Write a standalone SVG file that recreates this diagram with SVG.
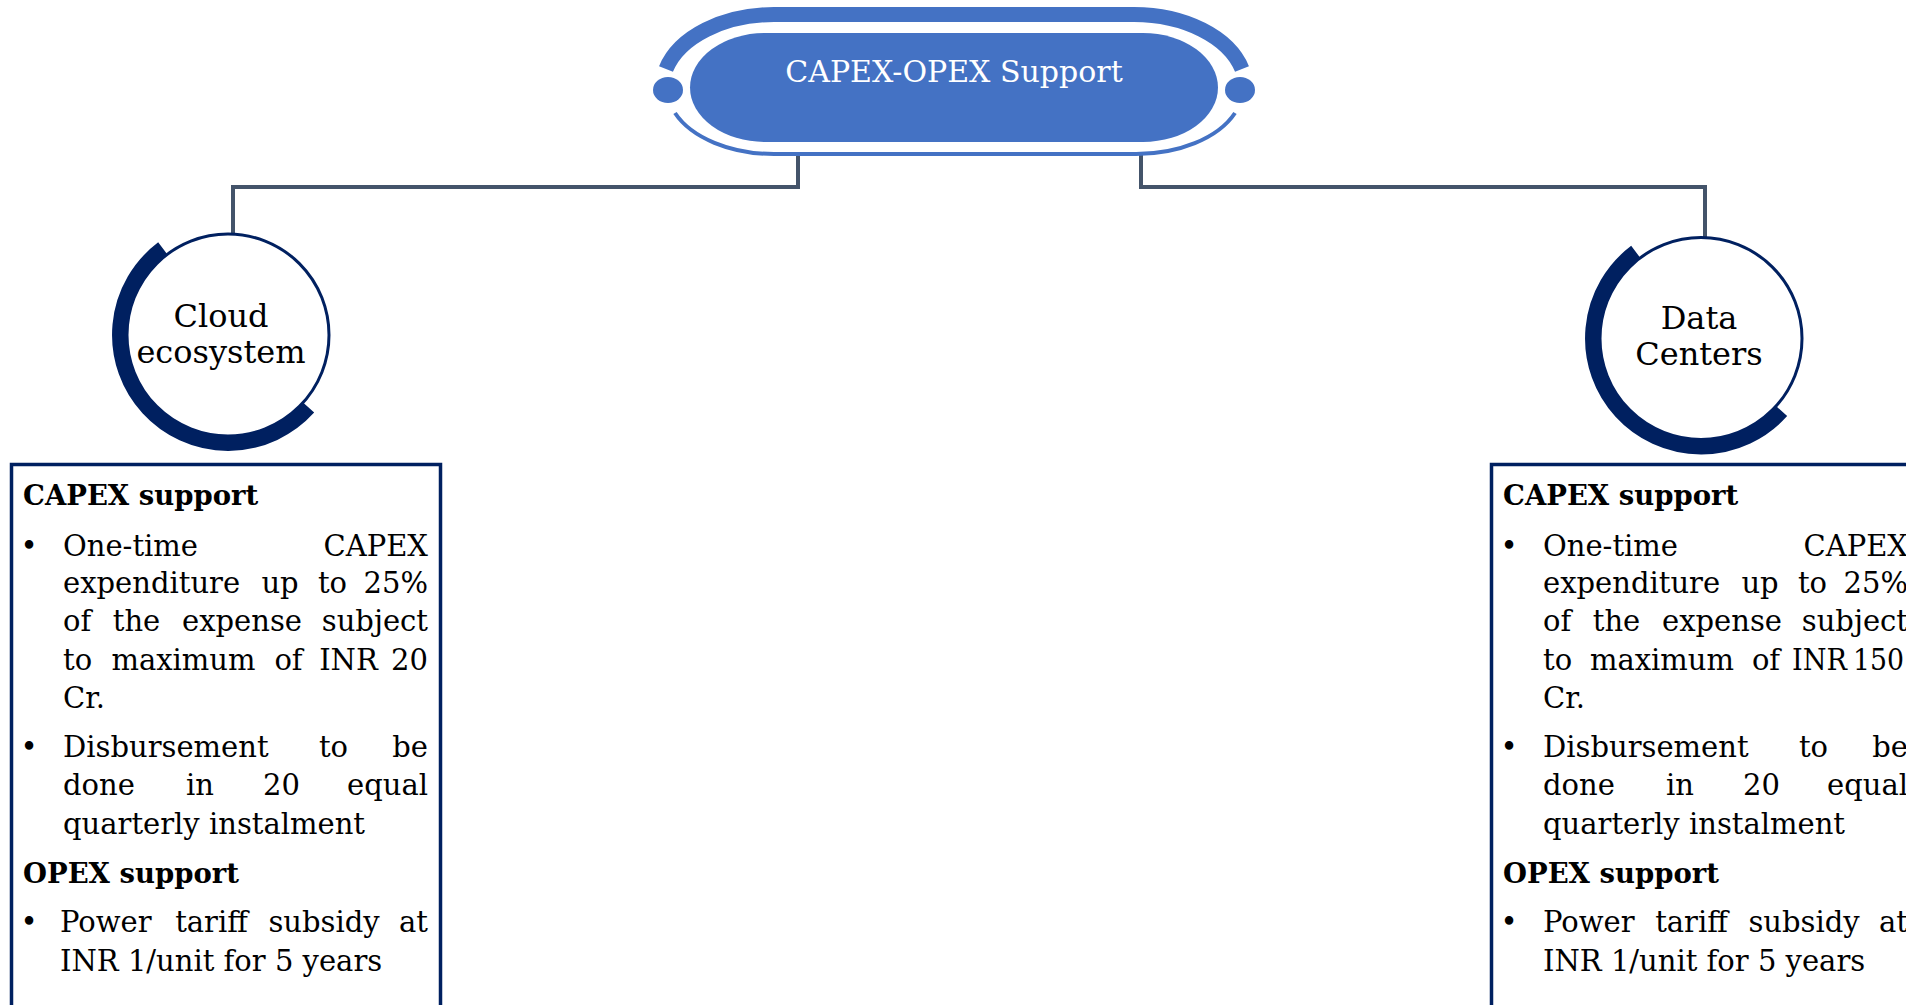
<svg xmlns="http://www.w3.org/2000/svg" width="1906" height="1005" viewBox="0 0 1906 1005">
<style>
.bg{fill:#ffffff}
.pill{fill:#4472C4}
.arcTop{fill:none;stroke:#4472C4;stroke-width:15}
.arcBot{fill:none;stroke:#4472C4;stroke-width:4}
.conn{fill:none;stroke:#44546A;stroke-width:4}
.ring{fill:#ffffff;stroke:#002060;stroke-width:3}
.ringArc{fill:none;stroke:#002060;stroke-width:15}
.box{fill:#ffffff;stroke:#002060;stroke-width:3.5}
text{font-family:"DejaVu Serif","Liberation Serif",serif;fill:#000000}
.title{font-size:30px;fill:#ffffff}
.circ{font-size:32px}
.head{font-size:27.5px;font-weight:bold}
.body{font-size:29px}
.e{text-anchor:end}
.m{text-anchor:middle}
</style>
<rect class="bg" x="0" y="0" width="1906" height="1005"/>

<g id="connectors">
<path class="conn" d="M798,155 V187 H233 V235"/>
<path class="conn" d="M1141,155 V187 H1705 V237"/>
</g>

<g id="node-capex-opex">
<path class="arcTop" d="M666,69 A112 73.5 0 0 1 774,14.5 L1134,14.5 A112 73.5 0 0 1 1242,69"/>
<path class="arcBot" d="M675,113 A107 66 0 0 0 774,154 L1134,154 A107 66 0 0 0 1235,113"/>
<rect class="pill" x="690" y="33" width="528" height="109" rx="75" ry="54.5"/>
<ellipse class="pill" cx="668" cy="90" rx="15" ry="13"/>
<ellipse class="pill" cx="1240" cy="90" rx="15" ry="13"/>
<text class="title m" x="954" y="82">CAPEX-OPEX Support</text>
</g>

<g id="node-cloud">
<circle class="ring" cx="228" cy="335" r="101"/>
<path class="ringArc" d="M308.6,407.6 A108.5 108.5 0 1 1 162.7,248.3"/>
<text class="circ m" x="221" y="327">Cloud</text>
<text class="circ m" x="221" y="363">ecosystem</text>
</g>

<g id="node-datacenters">
<circle class="ring" cx="1701" cy="338.5" r="101"/>
<path class="ringArc" d="M1781.6,411.1 A108.5 108.5 0 1 1 1635.7,251.8"/>
<text class="circ m" x="1699" y="329">Data</text>
<text class="circ m" x="1699" y="365">Centers</text>
</g>

<g id="box-cloud">
<rect class="box" x="11.5" y="464.5" width="429" height="560"/>
<text class="head" x="23" y="505">CAPEX support</text>
<text class="body m" x="29" y="555.5">•</text>
<text class="body" x="63" y="555.5">One-time</text>
<text class="body e" x="428" y="555.5">CAPEX</text>
<text class="body" x="63" y="593">expenditure</text>
<text class="body m" x="280" y="593">up</text>
<text class="body m" x="332.5" y="593">to</text>
<text class="body e" x="428" y="593">25%</text>
<text class="body" x="63" y="631">of</text>
<text class="body m" x="136.5" y="631">the</text>
<text class="body m" x="242" y="631">expense</text>
<text class="body e" x="428" y="631">subject</text>
<text class="body" x="63" y="669.5">to</text>
<text class="body m" x="183.5" y="669.5">maximum</text>
<text class="body m" x="288.5" y="669.5">of</text>
<text class="body m" x="348.5" y="669.5">INR</text>
<text class="body e" x="428" y="669.5">20</text>
<text class="body" x="63" y="707.5">Cr.</text>
<text class="body m" x="29" y="756.5">•</text>
<text class="body" x="63" y="756.5">Disbursement</text>
<text class="body m" x="333.5" y="756.5">to</text>
<text class="body e" x="428" y="756.5">be</text>
<text class="body" x="63" y="795">done</text>
<text class="body m" x="200" y="795">in</text>
<text class="body m" x="281.5" y="795">20</text>
<text class="body e" x="428" y="795">equal</text>
<text class="body" x="63" y="833.5">quarterly instalment</text>
<text class="head" x="23" y="883">OPEX support</text>
<text class="body m" x="29" y="931.5">•</text>
<text class="body" x="60" y="931.5">Power</text>
<text class="body m" x="211.5" y="931.5">tariff</text>
<text class="body m" x="324" y="931.5">subsidy</text>
<text class="body e" x="428" y="931.5">at</text>
<text class="body" x="60" y="970.5">INR 1/unit for 5 years</text>
</g>

<g id="box-datacenters">
<rect class="box" x="1491.5" y="464.5" width="500" height="560"/>
<text class="head" x="1503" y="505">CAPEX support</text>
<text class="body m" x="1509" y="555.5">•</text>
<text class="body" x="1543" y="555.5">One-time</text>
<text class="body e" x="1908" y="555.5">CAPEX</text>
<text class="body" x="1543" y="593">expenditure</text>
<text class="body m" x="1760" y="593">up</text>
<text class="body m" x="1812.5" y="593">to</text>
<text class="body e" x="1908" y="593">25%</text>
<text class="body" x="1543" y="631">of</text>
<text class="body m" x="1616.5" y="631">the</text>
<text class="body m" x="1722" y="631">expense</text>
<text class="body e" x="1908" y="631">subject</text>
<text class="body" x="1543" y="669.5">to</text>
<text class="body m" x="1662" y="669.5">maximum</text>
<text class="body m" x="1766" y="669.5">of</text>
<text class="body" x="1792" y="669.5" textLength="55" lengthAdjust="spacingAndGlyphs">INR</text>
<text class="body" x="1853" y="669.5" textLength="51" lengthAdjust="spacingAndGlyphs">150</text>
<text class="body" x="1543" y="707.5">Cr.</text>
<text class="body m" x="1509" y="756.5">•</text>
<text class="body" x="1543" y="756.5">Disbursement</text>
<text class="body m" x="1813.5" y="756.5">to</text>
<text class="body e" x="1908" y="756.5">be</text>
<text class="body" x="1543" y="795">done</text>
<text class="body m" x="1680" y="795">in</text>
<text class="body m" x="1761.5" y="795">20</text>
<text class="body e" x="1908" y="795">equal</text>
<text class="body" x="1543" y="833.5">quarterly instalment</text>
<text class="head" x="1503" y="883">OPEX support</text>
<text class="body m" x="1509" y="931.5">•</text>
<text class="body" x="1543" y="931.5">Power</text>
<text class="body m" x="1691.5" y="931.5">tariff</text>
<text class="body m" x="1804" y="931.5">subsidy</text>
<text class="body e" x="1908" y="931.5">at</text>
<text class="body" x="1543" y="970.5">INR 1/unit for 5 years</text>
</g>
</svg>
